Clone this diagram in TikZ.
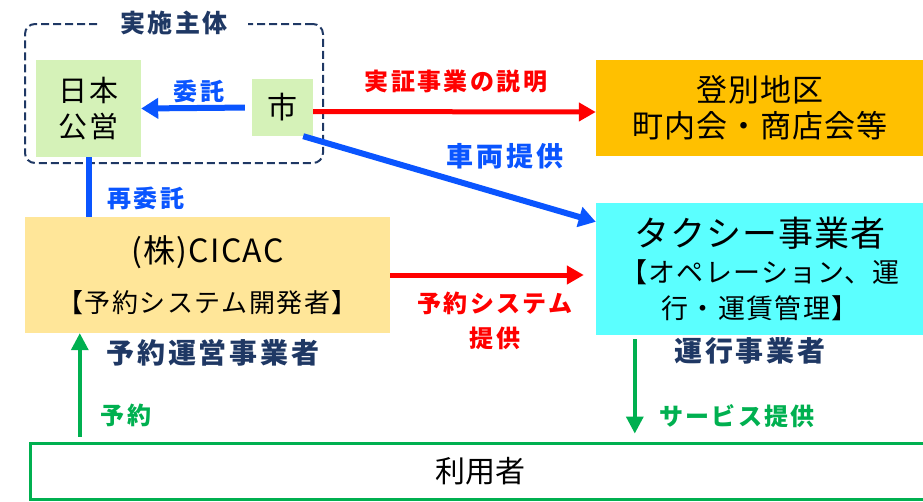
\documentclass[tikz,border=0pt]{standalone}
\usepackage{fontspec}
\setmainfont{Noto Sans CJK JP}
\usetikzlibrary{arrows.meta}
\definecolor{bluearr}{RGB}{10,85,255}
\definecolor{redarr}{RGB}{255,0,0}
\definecolor{greenarr}{RGB}{0,176,80}
\definecolor{navytxt}{RGB}{31,56,100}
\definecolor{greenfill}{RGB}{213,242,184}
\definecolor{orangefill}{RGB}{255,192,0}
\definecolor{yellowfill}{RGB}{255,230,153}
\definecolor{cyanfill}{RGB}{91,255,255}
\newcommand\fsz[2]{\fontsize{#1}{#2}\selectfont}
\newcommand\spc[1]{\addfontfeatures{LetterSpace=#1}}
\begin{document}
\begin{tikzpicture}[x=1pt,y=-1pt,
  box/.style={inner sep=0pt, align=center, text=black},
  lbl/.style={inner sep=0pt, align=center,
    font=\bfseries\fsz{24}{35}\spc{10}},
  navylbl/.style={lbl, text=navytxt, font=\bfseries\fsz{28}{35}\spc{10}},
  frame/.style={draw=navytxt, line width=2pt, dash pattern=on 8pt off 4pt,
    rounded corners=10pt},
  barrow/.style={bluearr, line width=6pt, -{Triangle[length=17pt,width=20pt]}},
  rarrow/.style={redarr, line width=5pt, -{Triangle[length=17pt,width=18pt]}},
  garrow/.style={greenarr, line width=3.5pt, -{Triangle[length=17pt,width=17pt]}}]
\useasboundingbox (0,0) rectangle (923,501);

% implementing bodies
\node[frame, minimum width=298pt, minimum height=139pt] (jisshi) at (174,93.5) {};
\node[lbl, text=navytxt, fill=white, inner xsep=20pt, inner ysep=3pt,
  font=\bfseries\fsz{25}{35}\spc{10}] (jisshititle) at (174,23) {実施主体};
\node[box, fill=greenfill, minimum width=105pt, minimum height=97pt,
  font=\fsz{29}{36}\spc{6}] (nihon) at (88.5,108.5) {日本\\公営};
\node[box, fill=greenfill, minimum width=61pt, minimum height=57pt,
  font=\fsz{30}{36}] (shi) at (282.5,107.5) {市};

% other parties
\node[box, fill=orangefill, minimum width=328pt, minimum height=96pt,
  font=\fsz{31}{36}\spc{3}] (nob) at (760,108) {登別地区\\町内会・商店会等};
\node[box, fill=yellowfill, minimum width=365pt, minimum height=116pt,
  font=\fsz{26}{34}\spc{6}] (cicac) at (207.5,275)
  {{\fsz{32}{34}\spc{4}(株)CICAC}\\[16pt]【予約システム開発者】};
\node[box, fill=cyanfill, minimum width=328pt, minimum height=132pt,
  font=\fsz{27}{36}\spc{5}] (taxi) at (760,269)
  {{\fsz{35}{41}\spc{3}タクシー事業者}\\【オペレーション、運\\行・運賃管理】};
\node[draw=greenarr, line width=3pt, minimum width=900pt, minimum height=56pt,
  font=\fsz{30}{36}] (user) at (480,471) {利用者};

% connectors
\draw[barrow, shorten <=7pt] (shi.west) -- (nihon.east);
\draw[bluearr, line width=6pt] (nihon.south) -- (cicac.north -| nihon.south);
\draw[rarrow] ([yshift=-4pt]shi.east) -- ([yshift=-4pt]nob.west);
\draw[barrow] ([xshift=-10pt]shi.south east) -- ([yshift=-19pt]taxi.north west);
\draw[rarrow, shorten >=12pt] (cicac.east) -- (cicac.east -| taxi.west);
\draw[garrow, shorten <=5pt] ([xshift=55pt]cicac.south west |- user.north)
  -- ([xshift=55pt]cicac.south west);
\draw[garrow, shorten <=4pt, shorten >=8pt] ([xshift=39pt]taxi.south west)
  -- ([xshift=39pt]taxi.south west |- user.north);

% labels
\node[lbl, text=bluearr] (itaku) at (199,91) {委託};
\node[lbl, text=bluearr] (saiitaku) at (146,198) {再委託};
\node[lbl, text=redarr] (setsumei) at (456,81) {実証事業の説明};
\node[lbl, text=bluearr, font=\bfseries\fsz{27}{35}\spc{12}] (sharyo) at (505,156) {車両提供};
\node[lbl, text=redarr] (yoyakusys) at (495,321) {予約システム\\提供};
\node[navylbl] (yoyakuunei) at (213,353) {予約運営事業者};
\node[navylbl] (unko) at (750,351) {運行事業者};
\node[lbl, text=greenarr] (yoyaku) at (126,415) {予約};
\node[lbl, text=greenarr] (service) at (737,416) {サービス提供};
\end{tikzpicture}
\end{document}
